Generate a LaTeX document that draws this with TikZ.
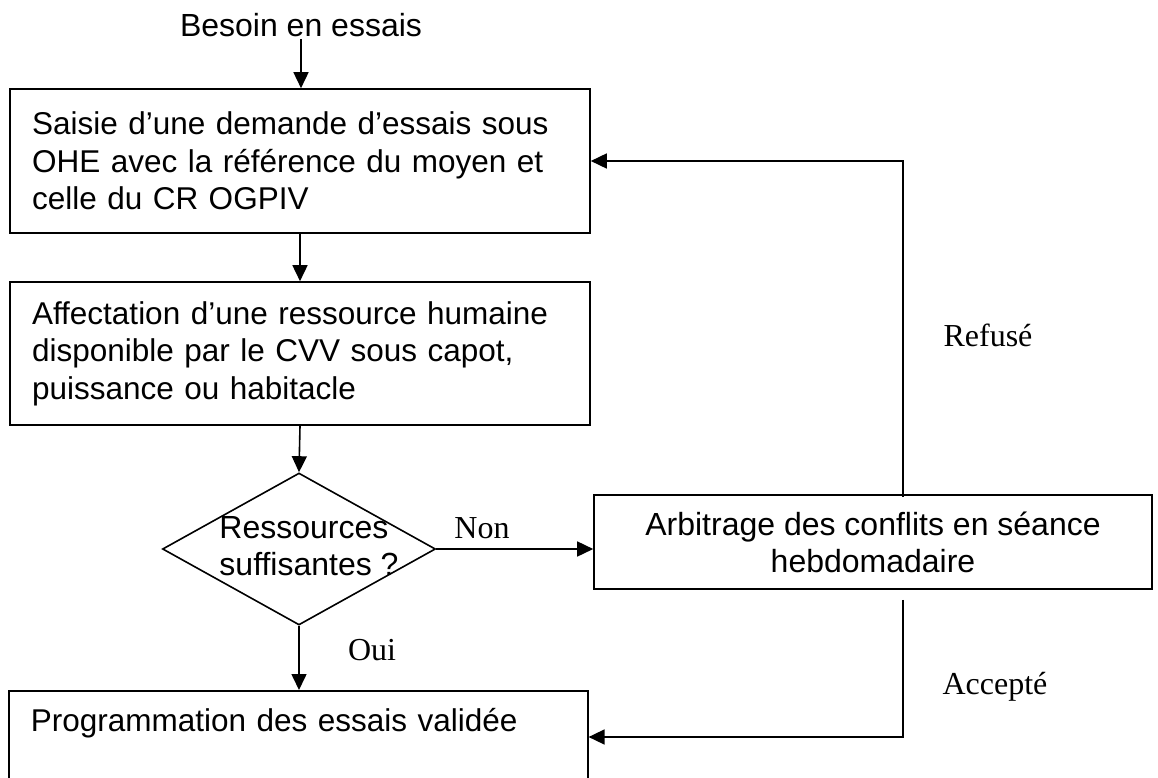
\documentclass[tikz,border=0pt]{standalone}
\usepackage{fontspec}
\setmainfont{Liberation Sans}
\newfontfamily\serifl{Liberation Serif}
\usetikzlibrary{arrows.meta,shapes.geometric}
\begin{document}
\begin{tikzpicture}[x=1pt,y=-1pt,
  every node/.style={font=\fontsize{32}{37}\selectfont},
  box/.style={draw, line width=1.6pt, rectangle, inner xsep=22pt, inner ysep=0pt, align=left},
  ltext/.style={font=\fontsize{31.5}{37.5}\selectfont},
  lbl/.style={font=\serifl\fontsize{32}{37}\selectfont, inner sep=0pt},
  arr/.style={line width=1.6pt, -{Triangle[length=16pt,width=15pt]}}]
\useasboundingbox (0,0) rectangle (1158,778);
\clip (0,0) rectangle (1158,778);
\node[inner sep=2pt] (besoin) at (301,25) {Besoin en essais};
\node[box, ltext, minimum width=580pt, minimum height=144pt, text width=536pt] (saisie) at (300,161)
  {Saisie d’une demande d’essais sous\\OHE avec la référence du moyen et\\celle du CR OGPIV};
\node[box, ltext, minimum width=580pt, minimum height=143pt, text width=536pt] (affect) at (300,353.5)
  {Affectation d’une ressource humaine\\disponible par le CVV sous capot,\\puissance ou habitacle};
\node[draw, diamond, line width=1.6pt, minimum width=273pt, minimum height=152pt, inner sep=0pt] (diam) at (299,549) {};
\node[inner sep=0pt, align=left] (diamtxt) at (309,546) {Ressources\\suffisantes ?};
\node[box, align=center, inner xsep=0pt, minimum width=558pt, minimum height=94pt] (arb) at (873,542)
  {Arbitrage des conflits en séance\\hebdomadaire};
\node[box, ltext, anchor=north west, minimum width=579pt, text width=535pt, text height=41pt, text depth=60pt] (prog) at (8,690)
  {Programmation des essais validée};
\node[lbl] (non) at (482,528) {Non};
\node[lbl] (oui) at (372,650) {Oui};
\node[lbl] (ref) at (988,335) {Refusé};
\node[lbl] (acc) at (995,687) {Accepté};
\coordinate (accpt) at (903,737);
\draw[arr] (besoin.south) -- (besoin.south |- saisie.north);
\draw[arr] (saisie.south) -- (affect.north);
\draw[arr] (affect.south) -- (diam.north);
\draw[arr] (diam.east) -- (diam.east -| arb.west);
\draw[arr] (diam.south) -- (diam.south |- prog.north);
\draw[arr] ([yshift=-3pt]arb.north -| accpt) |- (saisie.east);
\draw[arr] ([yshift=-10pt]arb.south -| accpt) -- (accpt) -- (accpt -| prog.east);
\end{tikzpicture}
\end{document}
